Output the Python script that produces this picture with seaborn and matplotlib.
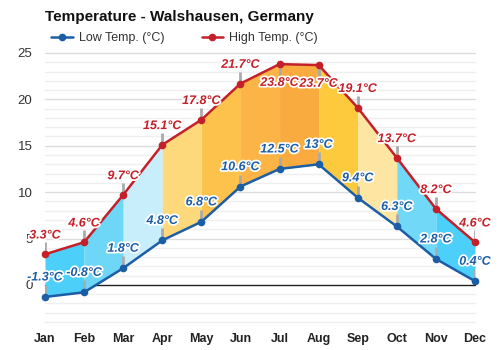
import matplotlib
matplotlib.use("Agg")
import matplotlib.pyplot as plt
import matplotlib.patheffects as pe
from matplotlib.lines import Line2D
import seaborn as sns
import pandas as pd

months = ["Jan", "Feb", "Mar", "Apr", "May", "Jun",
          "Jul", "Aug", "Sep", "Oct", "Nov", "Dec"]
low_temp = [-1.3, -0.8, 1.8, 4.8, 6.8, 10.6, 12.5, 13.0, 9.4, 6.3, 2.8, 0.4]
high_temp = [3.3, 4.6, 9.7, 15.1, 17.8, 21.7, 23.8, 23.7, 19.1, 13.7, 8.2, 4.6]
# which high labels sit under their point
high_label_below = [False, False, False, False, False, False,
                    True, True, False, False, False, False]
# fill colour between consecutive months
band_colors = ["#4ccff8", "#6ed7f8", "#c9eefb", "#fed97b", "#fdc24b",
               "#fbb445", "#f9ab3f", "#fdca3d", "#fee6a2", "#71d8f8", "#4ccff8"]

LOW_C = "#1c5ea6"
HIGH_C = "#c3202a"

sns.set_theme(style="white")
plt.rcParams["font.family"] = ["Liberation Sans", "DejaVu Sans"]

x = list(range(len(months)))
df = pd.DataFrame({"x": x + x,
                   "temp": low_temp + high_temp,
                   "series": ["Low Temp. (°C)"] * 12 + ["High Temp. (°C)"] * 12})

fig = plt.figure(figsize=(5, 3.5), dpi=100)
ax = fig.add_axes([0.09, 0.08, 0.86, 0.7686])

# grid: light every degree, darker every 5
for v in range(-4, 26):
    if v == 0:
        continue
    ax.axhline(v, color="#dcdcdc" if v % 5 == 0 else "#efefef",
               lw=1.0, zorder=0)
ax.axhline(0, color="#222222", lw=1.0, zorder=1)

# coloured bands between low and high
for i, c in enumerate(band_colors):
    ax.fill_between(x[i:i + 2], low_temp[i:i + 2], high_temp[i:i + 2],
                    color=c, lw=0, zorder=2)

sns.lineplot(data=df, x="x", y="temp", hue="series",
             palette={"Low Temp. (°C)": LOW_C, "High Temp. (°C)": HIGH_C},
             marker="o", markersize=5.5, markeredgewidth=0, linewidth=1.8,
             legend=False, ax=ax, zorder=5, clip_on=False)
for ln in ax.lines:
    ln.set_clip_on(False)

stroke = [pe.withStroke(linewidth=2.5, foreground="white")]
px = 1 / 9.276  # data units per pixel (vertical)
for i in x:
    # high labels
    below = high_label_below[i]
    sign = -1 if below else 1
    ax.plot([i, i], [high_temp[i], high_temp[i] + sign * 12 * px],
            color="#aaaaaa", lw=2, zorder=4, solid_capstyle="butt")
    ax.annotate(f"{high_temp[i]:g}°C", (i, high_temp[i]),
                xytext=(0, sign * 13.5), textcoords="offset points",
                ha="center", va="center", fontsize=9, fontweight="bold",
                fontstyle="italic", color=HIGH_C, path_effects=stroke,
                zorder=7, annotation_clip=False)
    # low labels
    ax.plot([i, i], [low_temp[i], low_temp[i] + 12 * px],
            color="#aaaaaa", lw=2, zorder=4, solid_capstyle="butt")
    ax.annotate(f"{low_temp[i]:g}°C", (i, low_temp[i]),
                xytext=(0, 14), textcoords="offset points",
                ha="center", va="center", fontsize=9, fontweight="bold",
                fontstyle="italic", color=LOW_C, path_effects=stroke,
                zorder=7, annotation_clip=False)

ax.set_xlim(0, 11)
ax.set_ylim(-4, 25)
ax.set_xticks(x)
ax.set_xticklabels(months, fontweight="bold", fontsize=9, color="#222222")
ax.set_yticks([0, 5, 10, 15, 20, 25])
ax.set_yticklabels(["0", "5", "10", "15", "20", "25"], fontsize=9.5,
                   color="#333333")
ax.tick_params(axis="x", length=0, pad=8)
ax.tick_params(axis="y", length=0, pad=9)
ax.set_xlabel("")
ax.set_ylabel("")
for s in ax.spines.values():
    s.set_visible(False)

fig.text(0.09, 0.952, "Temperature - Walshausen, Germany",
         fontsize=11, fontweight="bold", color="#111111",
         ha="left", va="center")

handles = [Line2D([], [], color=LOW_C, lw=1.8, marker="o", markersize=5.5,
                  markeredgewidth=0),
           Line2D([], [], color=HIGH_C, lw=1.8, marker="o", markersize=5.5,
                  markeredgewidth=0)]
fig.legend(handles, ["Low Temp. (°C)", "High Temp. (°C)"],
           loc="center left", bbox_to_anchor=(0.08, 0.89), ncol=2,
           frameon=False, fontsize=9, handlelength=1.7, handletextpad=0.5,
           columnspacing=3.0, labelcolor="#333333")

fig.savefig("out.png", dpi=100)
